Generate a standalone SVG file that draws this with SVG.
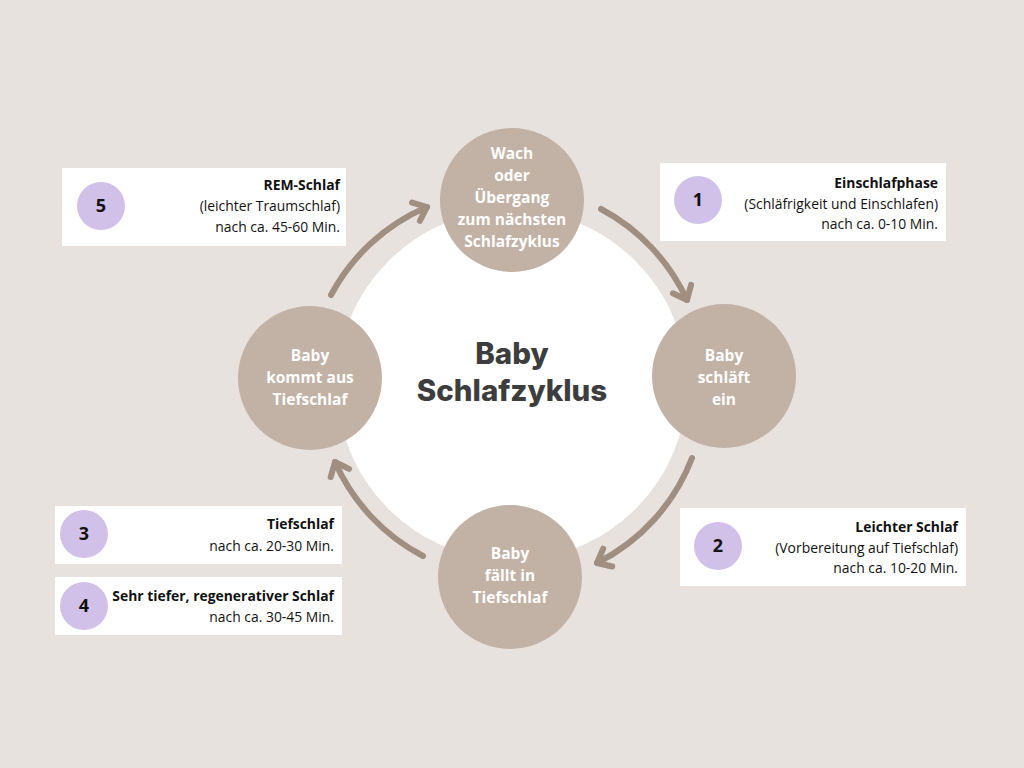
<svg xmlns="http://www.w3.org/2000/svg" width="1024" height="768" viewBox="0 0 1024 768">
<defs>
<style>
.node{fill:#c2b1a5}
.nt{font-family:"Open Sans","Liberation Sans",sans-serif;font-weight:700;font-size:15.5px;fill:#ffffff;text-anchor:middle}
.box{fill:#ffffff}
.num{fill:#d1c1e9}
.nn{font-family:"Open Sans","Liberation Sans",sans-serif;font-weight:700;font-size:18px;fill:#111111;text-anchor:middle}
.bt{font-family:"Open Sans","Liberation Sans",sans-serif;font-size:13.9px;fill:#111111;text-anchor:end}
.bb{font-weight:700}
.arr{fill:none;stroke:#a08e80;stroke-width:6;stroke-linecap:round;stroke-linejoin:round}
.title{font-family:Inter,"Liberation Sans",sans-serif;font-weight:800;font-size:29.5px;fill:#3d3d3d;text-anchor:middle}
</style>
<marker id="chev" markerUnits="userSpaceOnUse" markerWidth="40" markerHeight="40" viewBox="-20 -20 40 40" refX="0" refY="0" orient="auto">
<path d="M-12,-10 L0,0 L-12,10" fill="none" stroke="#a08e80" stroke-width="6" stroke-linecap="round" stroke-linejoin="round"/>
</marker>
</defs>
<rect width="1024" height="768" fill="#e7e2de"/>
<circle cx="512" cy="385" r="175" fill="#ffffff"/>
<g id="connectors">
<path class="arr" d="M601,209 A196,196 0 0 1 687,300" marker-end="url(#chev)"/>
<path class="arr" d="M692,458 A196,196 0 0 1 597,563" marker-end="url(#chev)"/>
<path class="arr" d="M423,556 A196,196 0 0 1 335,462" marker-end="url(#chev)"/>
<path class="arr" d="M331,295 A196,196 0 0 1 427,207" marker-end="url(#chev)"/>
</g>
<g id="title">
<text class="title" x="512" y="364">Baby</text>
<text class="title" x="512" y="401">Schlafzyklus</text>
</g>
<g id="node-wach">
<circle class="node" cx="512" cy="200" r="72"/>
<text class="nt" x="512" y="159">Wach</text>
<text class="nt" x="512" y="181">oder</text>
<text class="nt" x="512" y="203">Übergang</text>
<text class="nt" x="512" y="225">zum nächsten</text>
<text class="nt" x="512" y="247">Schlafzyklus</text>
</g>
<g id="node-einschlafen">
<circle class="node" cx="724" cy="376" r="72"/>
<text class="nt" x="724" y="361">Baby</text>
<text class="nt" x="724" y="383">schläft</text>
<text class="nt" x="724" y="405">ein</text>
</g>
<g id="node-tiefschlaf">
<circle class="node" cx="510" cy="577" r="72"/>
<text class="nt" x="510" y="559">Baby</text>
<text class="nt" x="510" y="581">fällt in</text>
<text class="nt" x="510" y="603">Tiefschlaf</text>
</g>
<g id="node-kommt">
<circle class="node" cx="310" cy="378" r="72"/>
<text class="nt" x="310" y="361">Baby</text>
<text class="nt" x="310" y="383">kommt aus</text>
<text class="nt" x="310" y="405">Tiefschlaf</text>
</g>
<g id="box-1">
<rect class="box" x="660" y="163" width="286" height="78"/>
<circle class="num" cx="698" cy="200" r="24"/>
<text class="nn" x="698" y="206">1</text>
<text class="bt bb" x="938" y="188">Einschlafphase</text>
<text class="bt" x="938" y="209">(Schläfrigkeit und Einschlafen)</text>
<text class="bt" x="938" y="229">nach ca. 0-10 Min.</text>
</g>
<g id="box-2">
<rect class="box" x="680" y="508" width="286" height="78"/>
<circle class="num" cx="718" cy="546" r="24"/>
<text class="nn" x="718" y="552">2</text>
<text class="bt bb" x="958" y="532">Leichter Schlaf</text>
<text class="bt" x="958" y="553">(Vorbereitung auf Tiefschlaf)</text>
<text class="bt" x="958" y="573">nach ca. 10-20 Min.</text>
</g>
<g id="box-3">
<rect class="box" x="55" y="506" width="287" height="58"/>
<circle class="num" cx="84" cy="534" r="24"/>
<text class="nn" x="84" y="540">3</text>
<text class="bt bb" x="334" y="529">Tiefschlaf</text>
<text class="bt" x="334" y="551">nach ca. 20-30 Min.</text>
</g>
<g id="box-4">
<rect class="box" x="55" y="577" width="287" height="58"/>
<circle class="num" cx="84" cy="606" r="24"/>
<text class="nn" x="84" y="612">4</text>
<text class="bt bb" x="334" y="601">Sehr tiefer, regenerativer Schlaf</text>
<text class="bt" x="334" y="622">nach ca. 30-45 Min.</text>
</g>
<g id="box-5">
<rect class="box" x="62" y="168" width="284" height="78"/>
<circle class="num" cx="101" cy="206" r="24"/>
<text class="nn" x="101" y="212">5</text>
<text class="bt bb" x="340" y="190">REM-Schlaf</text>
<text class="bt" x="340" y="211">(leichter Traumschlaf)</text>
<text class="bt" x="340" y="232">nach ca. 45-60 Min.</text>
</g>
</svg>
